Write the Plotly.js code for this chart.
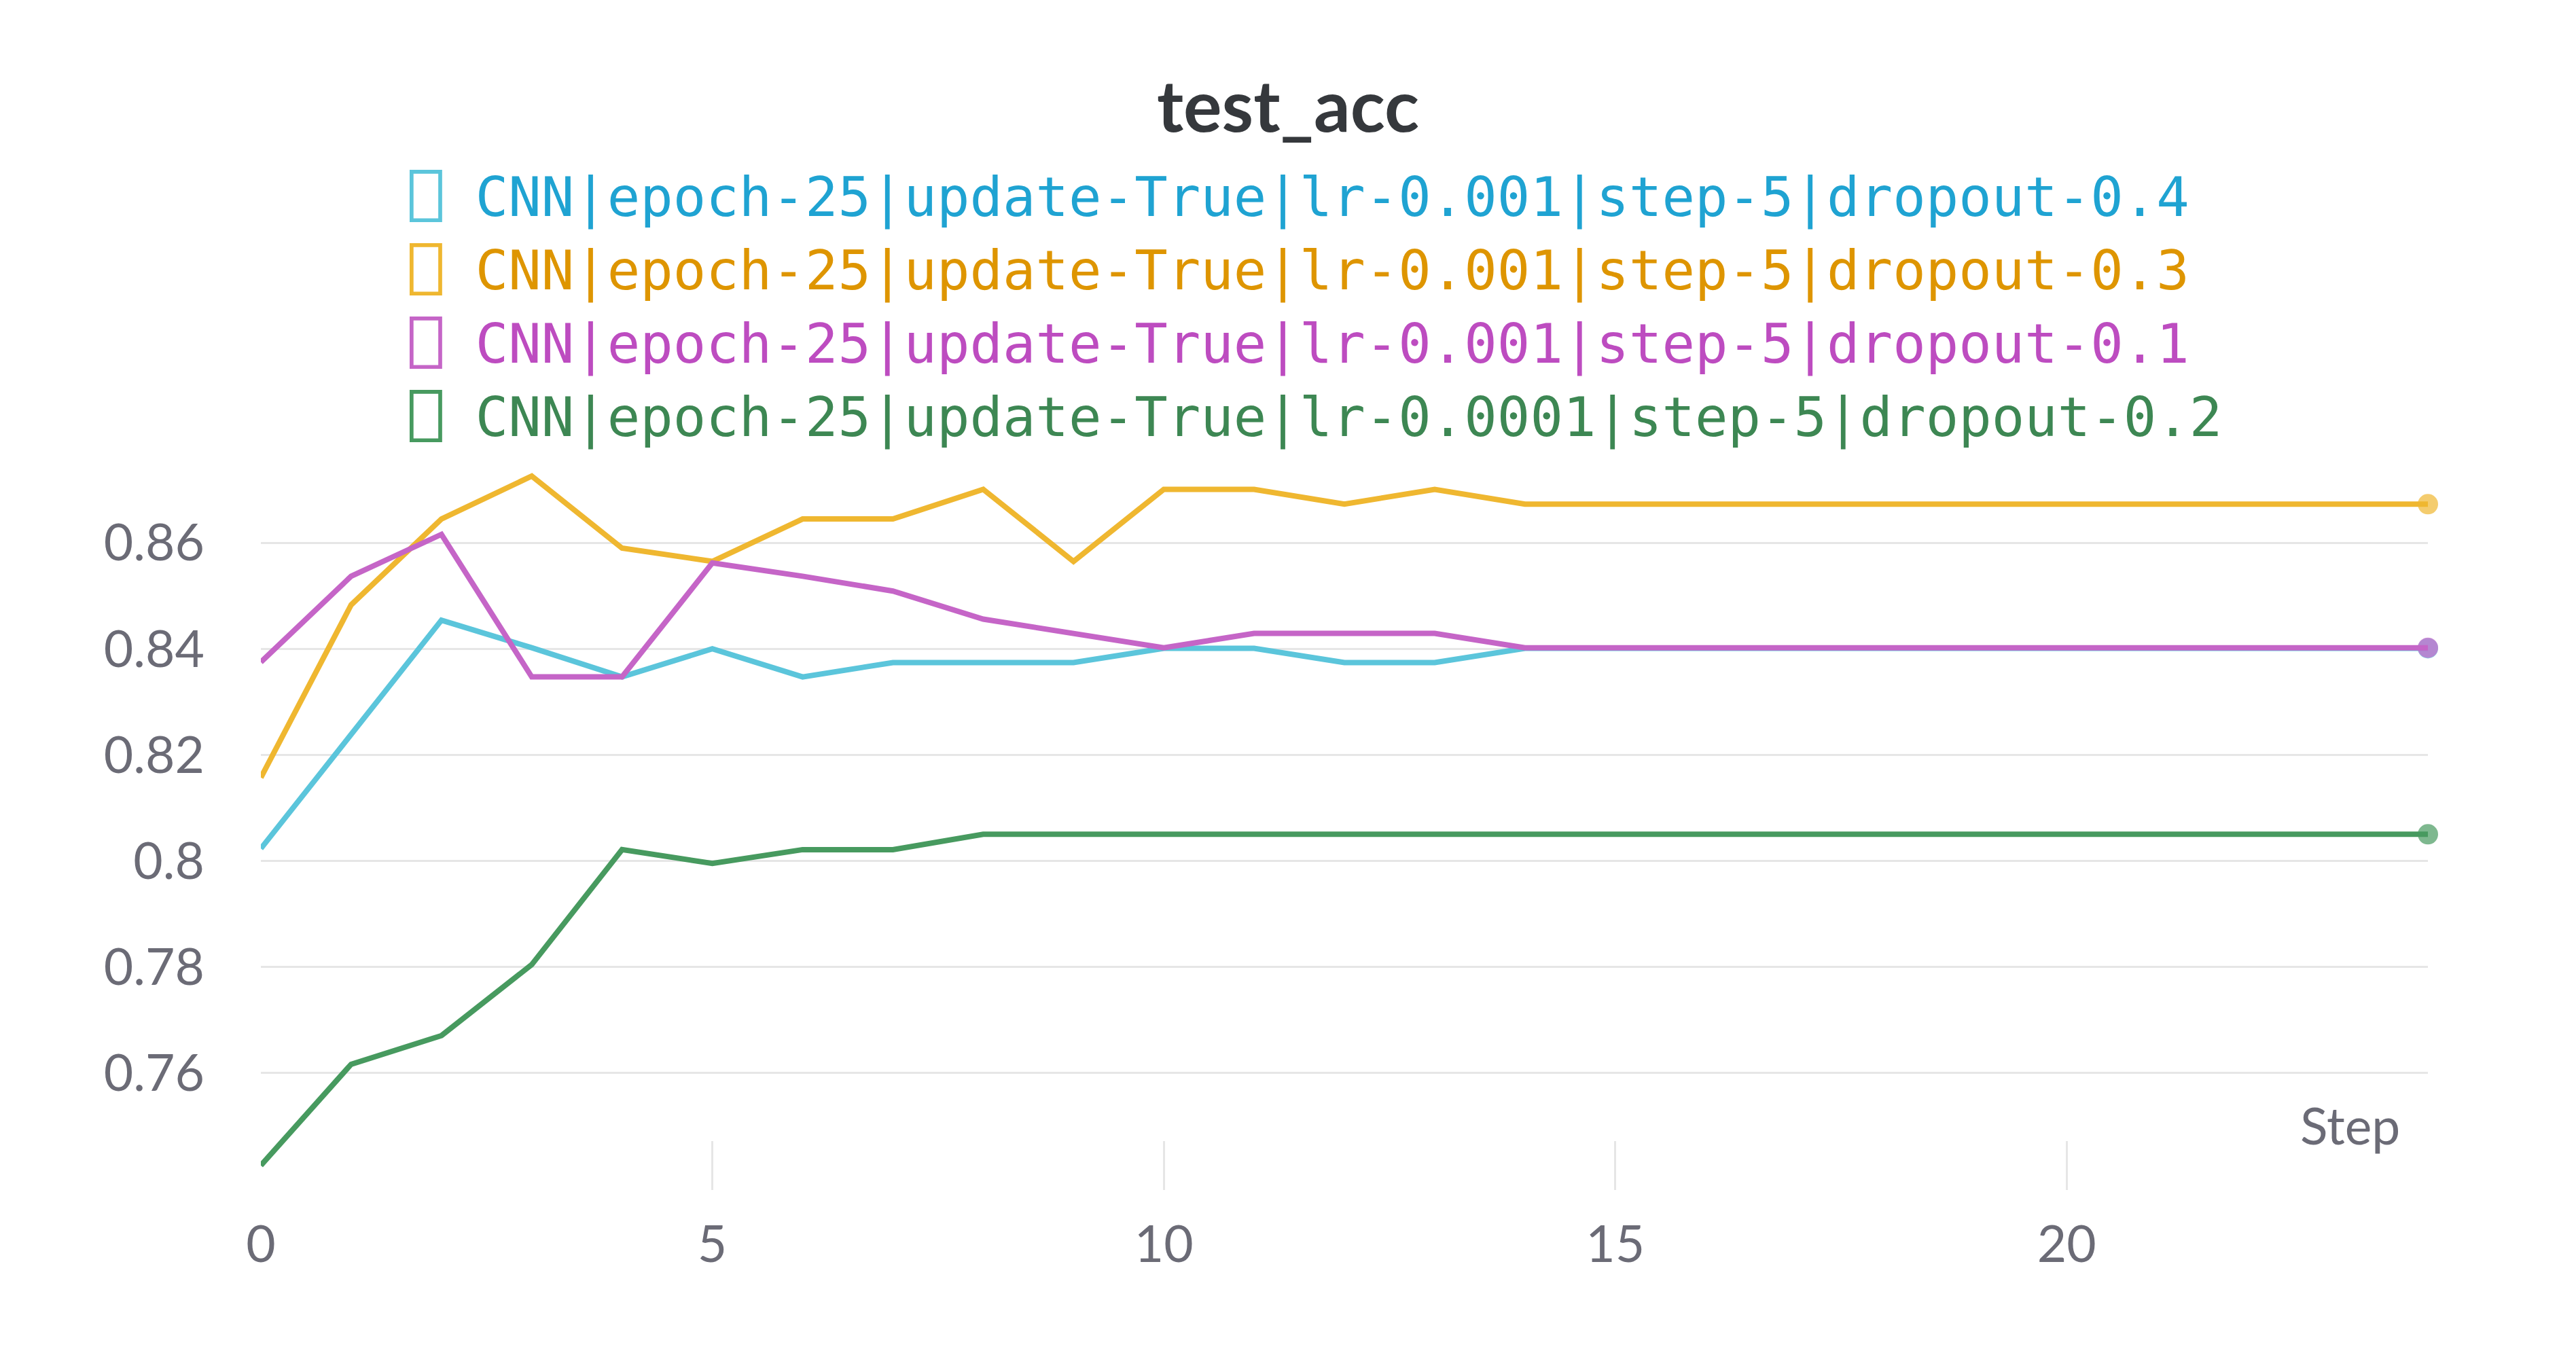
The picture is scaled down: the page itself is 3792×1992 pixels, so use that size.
<!DOCTYPE html>
<html>
<head>
<meta charset="utf-8">
<script src="https://cdn.plot.ly/plotly-3.0.1.min.js"></script>
<style>html,body{margin:0;padding:0;background:#fff;}#chart{width:3792px;height:1992px;}</style>
</head>
<body>
<div id="chart"></div>
<script>
// ---- data ----
const chartTitle = 'test_acc';
const xAxisLabel = 'Step';
const steps = [0,1,2,3,4,5,6,7,8,9,10,11,12,13,14,15,16,17,18,19,20,21,22,23,24];

const runNames = [
  'CNN|epoch-25|update-True|lr-0.001|step-5|dropout-0.4',
  'CNN|epoch-25|update-True|lr-0.001|step-5|dropout-0.3',
  'CNN|epoch-25|update-True|lr-0.001|step-5|dropout-0.1',
  'CNN|epoch-25|update-True|lr-0.0001|step-5|dropout-0.2'
];

const accDropout04 = [0.8023,0.8239,0.8454,0.8402,0.8347,0.8400,0.8347,0.8374,0.8374,0.8374,0.8401,0.8401,0.8374,0.8374,0.8401,0.8401,0.8401,0.8401,0.8401,0.8401,0.8401,0.8401,0.8401,0.8401,0.8401];
const accDropout03 = [0.8157,0.8483,0.8645,0.8726,0.8590,0.8565,0.8645,0.8645,0.8701,0.8565,0.8701,0.8701,0.8673,0.8701,0.8673,0.8673,0.8673,0.8673,0.8673,0.8673,0.8673,0.8673,0.8673,0.8673,0.8673];
const accDropout01 = [0.8375,0.8537,0.8616,0.8347,0.8347,0.8562,0.8537,0.8509,0.8456,0.8429,0.8402,0.8429,0.8429,0.8429,0.8402,0.8402,0.8402,0.8402,0.8402,0.8402,0.8402,0.8402,0.8402,0.8402,0.8402];
const accDropout02 = [0.7425,0.7616,0.7670,0.7804,0.8021,0.7995,0.8021,0.8021,0.8050,0.8050,0.8050,0.8050,0.8050,0.8050,0.8050,0.8050,0.8050,0.8050,0.8050,0.8050,0.8050,0.8050,0.8050,0.8050,0.8050];

const yTickVals = [0.76,0.78,0.80,0.82,0.84,0.86];
const yTickText = ['0.76','0.78','0.8','0.82','0.84','0.86'];
const xTickVals = [0,5,10,15,20];
const xTickText = ['0','5','10','15','20'];

// ---- styles ----
const series = [accDropout04, accDropout03, accDropout01, accDropout02];
const lineColors = ['#5bc5db','#efb730','#c565c7','#479a5f'];
const textColors = ['#1fa3d2','#de9500','#bd4cc0','#3d8753'];
const tickColor = '#6b6b76';
const gridColor = '#e6e6e6';

const lastIdx = steps.length - 1;
const endMarkerSizes = steps.map((s, i) => i === lastIdx ? 30 : 0);

const traces = [];
series.forEach((ys, k) => {
  traces.push({
    type: 'scatter',
    mode: 'lines+markers',
    x: steps,
    y: ys,
    name: runNames[k],
    legendgroup: 'g' + k,
    showlegend: false,
    cliponaxis: false,
    line: {color: lineColors[k], width: 8},
    marker: {color: lineColors[k], size: endMarkerSizes, line: {width: 0}},
    hoverinfo: 'x+y+name'
  });
});
// legend entries (one per run, same group as its line)
series.forEach((ys, k) => {
  traces.push({
    type: 'scatter',
    mode: 'none',
    x: [null],
    y: [null],
    legendgroup: 'g' + k,
    showlegend: true,
    name: '<span style="color:' + lineColors[k] + ';font-weight:bold">\u2395</span> <span style="color:' + textColors[k] + '">' + runNames[k] + '</span>',
    hoverinfo: 'skip'
  });
});

const layout = {
  width: 3792,
  height: 1992,
  paper_bgcolor: '#ffffff',
  plot_bgcolor: '#ffffff',
  margin: {l: 384, r: 218, t: 690, b: 240, pad: 0},
  title: {
    text: '<b>' + chartTitle + '</b>',
    x: 0.5, xref: 'container', xanchor: 'center',
    y: 0.921, yref: 'container', yanchor: 'middle',
    font: {family: 'Lato, "Open Sans", sans-serif', size: 106, color: '#35383c'}
  },
  showlegend: true,
  legend: {
    orientation: 'v',
    x: 0.0560, xref: 'paper', xanchor: 'left',
    y: 1.435, yref: 'paper', yanchor: 'top',
    bgcolor: 'rgba(0,0,0,0)',
    borderwidth: 0,
    itemwidth: 30,
    tracegroupgap: 0,
    font: {family: '"DejaVu Sans Mono", "Liberation Mono", monospace', size: 80.6, color: '#1fa3d2'}
  },
  xaxis: {
    range: [0, 24],
    showgrid: false,
    zeroline: false,
    showline: false,
    tickmode: 'array',
    tickvals: xTickVals,
    ticktext: xTickText,
    ticks: 'inside',
    ticklen: 72,
    tickwidth: 3,
    tickcolor: gridColor,
    ticklabelstandoff: 30,
    layer: 'below traces',
    tickfont: {family: 'Lato, "Open Sans", sans-serif', size: 75, color: tickColor},
    fixedrange: true
  },
  yaxis: {
    range: [0.73787, 0.874],
    showgrid: true,
    gridcolor: gridColor,
    gridwidth: 3,
    zeroline: false,
    showline: false,
    ticks: '',
    tickmode: 'array',
    tickvals: yTickVals,
    ticktext: yTickText,
    ticklabelstandoff: 82,
    tickfont: {family: 'Lato, "Open Sans", sans-serif', size: 75, color: tickColor},
    fixedrange: true
  },
  annotations: [{
    text: xAxisLabel,
    xref: 'paper', yref: 'paper',
    x: 0.9878, y: 0.0904,
    xanchor: 'right', yanchor: 'middle',
    showarrow: false,
    font: {family: 'Lato, "Open Sans", sans-serif', size: 75, color: tickColor}
  }],
  hovermode: 'closest'
};

Plotly.newPlot('chart', traces, layout, {displayModeBar: false, staticPlot: false, responsive: false});
</script>
</body>
</html>
